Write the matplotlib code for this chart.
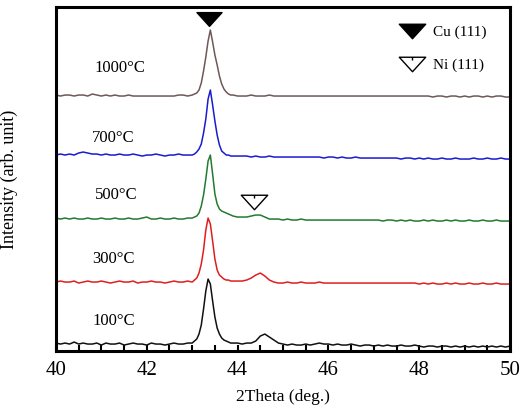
import matplotlib
matplotlib.use("Agg")
import matplotlib.pyplot as plt
from matplotlib.path import Path
from matplotlib.lines import Line2D
from matplotlib.ticker import MultipleLocator

plt.rcParams['font.family'] = ['Liberation Serif', 'DejaVu Serif']

# 2theta sample positions
x_a = [40.0, 40.1, 40.2, 40.3, 40.4, 40.5, 40.6, 40.7, 40.8, 40.9,
       41.0, 41.1, 41.2, 41.3, 41.4, 41.5, 41.6, 41.7, 41.8, 41.9,
       42.0, 42.1, 42.2, 42.3, 42.4, 42.5, 42.6, 42.7, 42.8, 42.9]
x_b = [43.0, 43.05, 43.1, 43.15, 43.2, 43.25, 43.3, 43.35, 43.4, 43.45,
       43.5, 43.55, 43.6, 43.65, 43.7, 43.75, 43.8, 43.85, 43.9]
x_c = [44.0, 44.1, 44.2, 44.3, 44.4, 44.5, 44.6, 44.7, 44.8, 44.9,
       45.0, 45.1, 45.2, 45.3, 45.4, 45.5, 45.6, 45.7, 45.8, 45.9,
       46.0, 46.1, 46.2, 46.3, 46.4, 46.5, 46.6, 46.7, 46.8, 46.9,
       47.0, 47.1, 47.2, 47.3, 47.4, 47.5, 47.6, 47.7, 47.8, 47.9,
       48.0, 48.1, 48.2, 48.3, 48.4, 48.5, 48.6, 48.7, 48.8, 48.9,
       49.0, 49.1, 49.2, 49.3, 49.4, 49.5, 49.6, 49.7, 49.8, 49.9, 50.0]
two_theta = x_a + x_b + x_c

labels = ['100°C', '300°C', '500°C', '700°C', '1000°C']
colors = ['#111111', '#e01e1e', '#237a30', '#1a1ad2', '#6e5858']
offsets = [4, 67, 130, 192, 254]

i_100 = ([4, 3, 4, 3, 5, 3, 4, 3, 3, 4, 2, 4, 3, 3, 4, 2, 3, 4, 3, 3, 2, 4, 3, 3, 2, 3, 4, 3, 3, 4]
         + [4, 6, 8, 13, 22, 38, 56, 68, 63, 46, 30, 19, 13, 9, 7, 6, 5, 4, 4]
         + [4, 3, 4, 4, 6, 11, 13, 10, 7, 4, 3, 2, 3, 2, 2, 3, 2, 3, 4, 3,
            3, 2, 3, 2, 2, 3, 2, 1, 2, 2, 1, 2, 1, 2, 1, 1, 2, 1, 1, 2,
            1, 0, 1, 1, 0, 1, 1, 0, 1, 0, 1, 0, 1, 0, 1, 0, 1, 0, 1, 0, 1])
i_300 = ([2, 3, 2, 2, 3, 1, 2, 3, 2, 2, 3, 2, 1, 2, 3, 2, 2, 3, 1, 2, 2, 3, 2, 2, 1, 2, 3, 2, 2, 3]
         + [2, 4, 6, 11, 20, 34, 54, 66, 60, 43, 25, 14, 9, 7, 5, 4, 4, 3, 3]
         + [3, 3, 4, 6, 9, 11, 8, 4, 2, 1, 1, 2, 1, 1, 2, 1, 1, 1, 2, 1,
            1, 1, 1, 1, 1, 1, 1, 1, 1, 1, 1, 1, 1, 1, 1, 1, 1, 1, 1, 1,
            0, 1, 0, 1, 0, 0, 1, 0, 1, 0, 0, 1, 0, 0, 1, 0, 0, 1, 0, 0, 0])
i_500 = ([3, 2, 3, 2, 3, 2, 2, 3, 2, 2, 3, 2, 2, 3, 2, 2, 3, 2, 2, 3, 4, 2, 2, 3, 2, 2, 3, 2, 2, 3]
         + [3, 4, 5, 8, 15, 26, 42, 60, 66, 47, 27, 17, 12, 10, 9, 8, 7, 6, 5]
         + [4, 4, 4, 5, 6, 6, 4, 2, 2, 2, 1, 2, 1, 1, 2, 1, 1, 1, 1, 1,
            1, 1, 1, 1, 1, 1, 1, 1, 1, 1, 1, 1, 0, 1, 1, 0, 1, 0, 1, 0,
            0, 1, 0, 1, 0, 0, 1, 0, 1, 0, 0, 1, 0, 0, 1, 0, 0, 1, 0, 0, 0])
i_700 = ([4, 5, 4, 5, 4, 6, 7, 6, 5, 5, 4, 5, 4, 4, 5, 4, 4, 5, 4, 3, 4, 4, 5, 4, 3, 4, 4, 5, 4, 4]
         + [4, 5, 7, 10, 15, 26, 40, 60, 69, 54, 38, 24, 14, 8, 6, 4, 4, 3, 3]
         + [3, 3, 3, 2, 3, 2, 2, 3, 2, 2, 2, 2, 2, 2, 2, 2, 2, 2, 2, 1,
            2, 2, 1, 2, 1, 1, 2, 1, 1, 1, 1, 1, 1, 1, 1, 1, 0, 1, 1, 0,
            1, 0, 1, 0, 0, 1, 0, 0, 1, 0, 0, 0, 1, 0, 0, 1, 0, 0, 1, 0, 0])
i_1000 = ([2, 1, 2, 2, 1, 2, 2, 1, 3, 2, 1, 2, 1, 2, 1, 1, 2, 1, 1, 1, 1, 1, 1, 1, 1, 1, 1, 2, 2, 1]
          + [2, 3, 4, 7, 14, 26, 40, 56, 67, 55, 42, 32, 21, 13, 8, 5, 3, 2, 2]
          + [1, 1, 1, 2, 1, 1, 1, 2, 1, 1, 1, 1, 1, 1, 1, 1, 1, 1, 1, 1,
             1, 1, 1, 1, 1, 1, 1, 1, 1, 1, 1, 1, 1, 1, 1, 1, 1, 1, 1, 1,
             1, 1, 1, 0, 1, 1, 0, 1, 1, 0, 1, 0, 1, 1, 0, 1, 0, 1, 1, 0, 0])
intensities = [i_100, i_300, i_500, i_700, i_1000]

label_x = [41.27, 41.27, 41.32, 41.26, 41.40]
label_y = [30, 92, 156, 213, 283]

cu_peak_x, cu_peak_y = 43.38, 332
ni_peak_x, ni_peak_y = 44.37, 149

fig = plt.figure(figsize=(5.28, 4.13), dpi=100)
ax = fig.add_axes([0.106, 0.150, 0.860, 0.833])

for xs_, ys_, off, c in zip([two_theta] * 5, intensities, offsets, colors):
    ax.plot(xs_, [v + off for v in ys_], color=c, lw=1.1)

for lx, ly, lab in zip(label_x, label_y, labels):
    ax.text(lx, ly, lab, fontsize=12, ha='center', va='center')

cu_marker = Path([(-1, 0.55), (1, 0.55), (0, -0.55), (-1, 0.55)],
                 [Path.MOVETO, Path.LINETO, Path.LINETO, Path.CLOSEPOLY])
ni_marker = Path([(-1, 0.55), (1, 0.55), (0, -0.55), (-1, 0.55), (0, 0.55), (0, 0.3)],
                 [Path.MOVETO, Path.LINETO, Path.LINETO, Path.CLOSEPOLY, Path.MOVETO, Path.LINETO])

ax.plot([cu_peak_x], [cu_peak_y], marker=cu_marker, ms=18, color='black', ls='none')
ax.plot([ni_peak_x], [ni_peak_y], marker=ni_marker, ms=19, mfc='white', mec='black',
        mew=1.0, ls='none')

handles = [Line2D([], [], marker=cu_marker, ms=19, color='black', ls='none'),
           Line2D([], [], marker=ni_marker, ms=19, mfc='white', mec='black', mew=1.0, ls='none')]
ax.legend(handles, ['Cu (111)', 'Ni (111)'], loc='upper right', frameon=False,
          fontsize=11, bbox_to_anchor=(0.972, 0.978), handletextpad=0.4,
          labelspacing=1.25, borderaxespad=0.3)

ax.set_xlim(40, 50)
ax.set_ylim(0, 344)
ax.set_yticks([])
ax.xaxis.set_major_locator(MultipleLocator(2))
ax.xaxis.set_minor_locator(MultipleLocator(0.5))
ax.tick_params(axis='x', which='both', direction='in', length=4, width=1.5, labelsize=15, pad=7)
for s in ax.spines.values():
    s.set_linewidth(2.2)

ax.set_xlabel('2Theta (deg.)', fontsize=12.5, labelpad=7)
ax.set_ylabel('Intensity (arb. unit)', fontsize=13)
ax.yaxis.set_label_coords(-0.083, 0.5)

fig.savefig('out.png', dpi=100)
